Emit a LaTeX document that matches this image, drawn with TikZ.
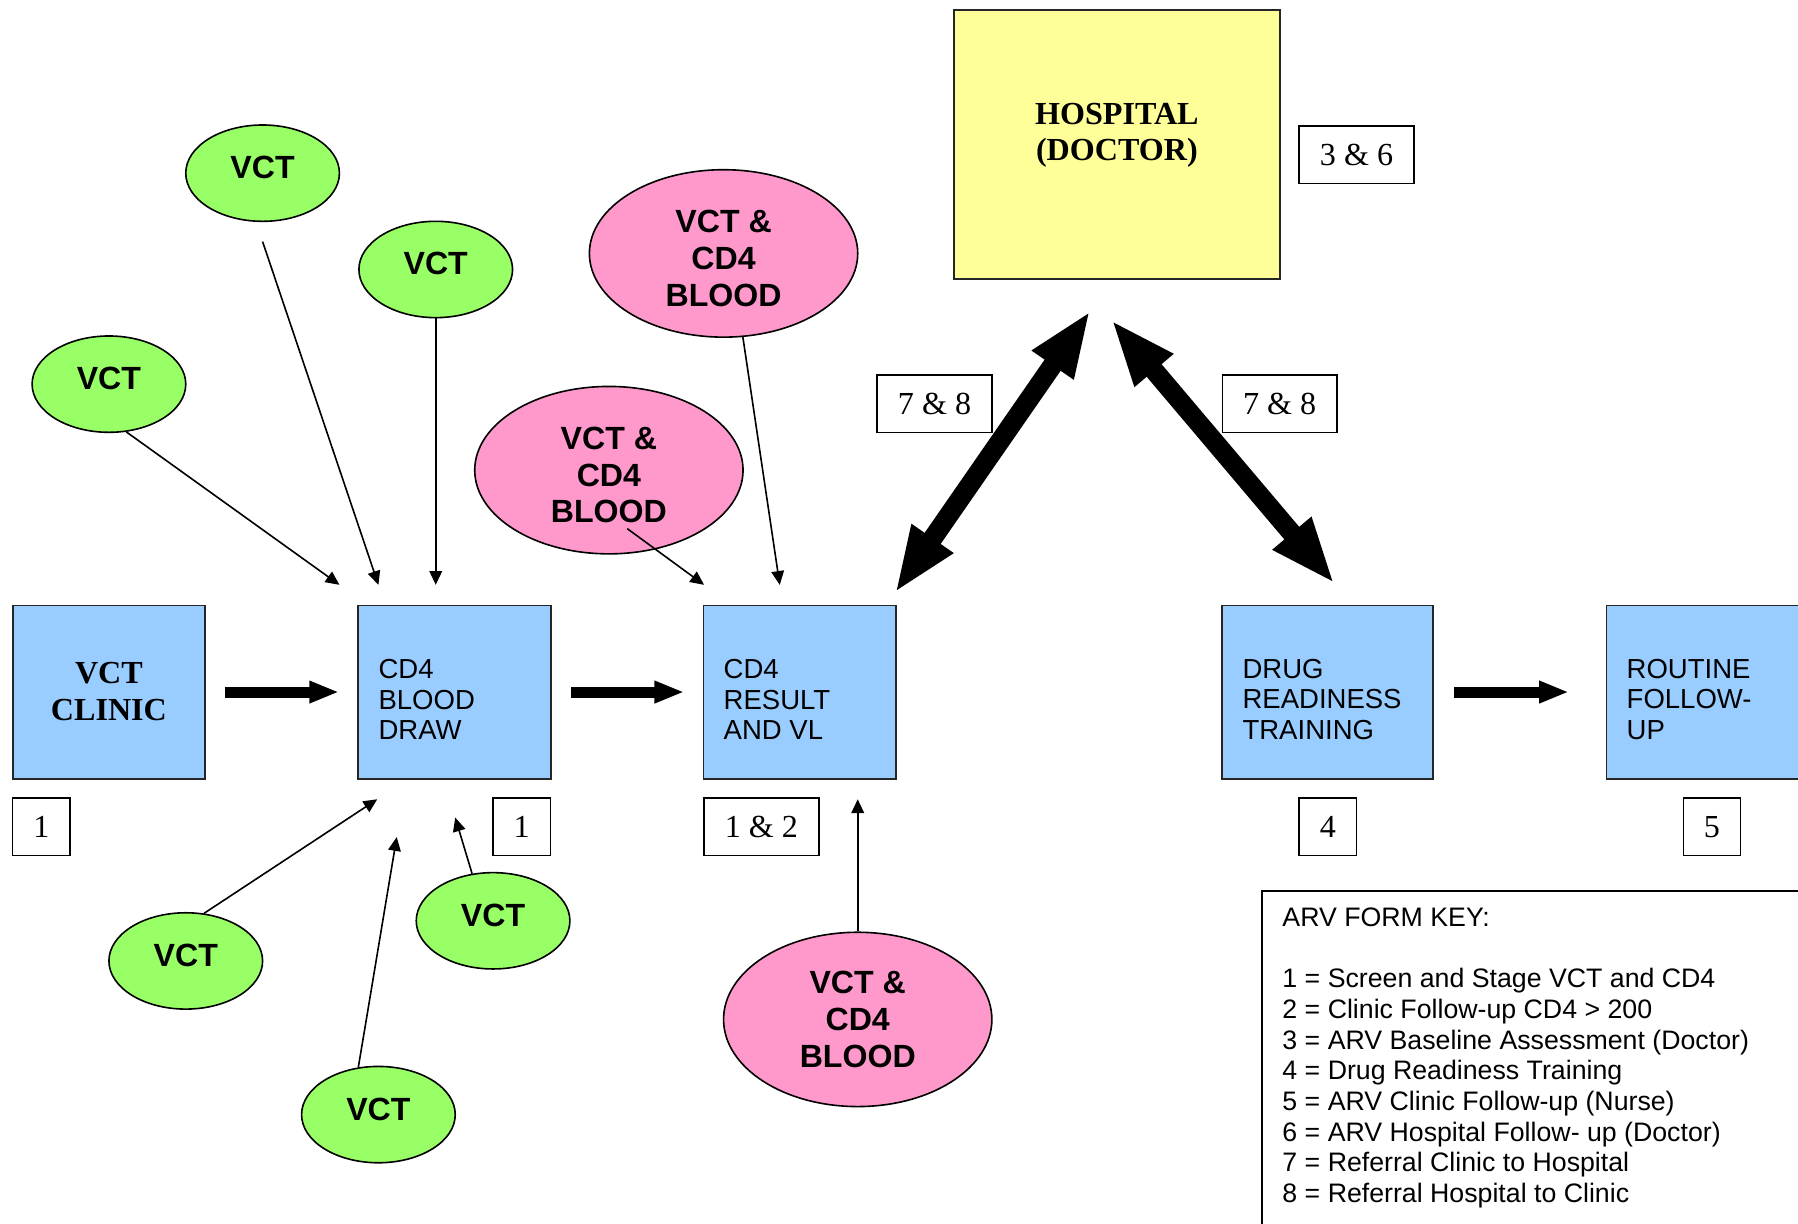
\documentclass[tikz,border=0pt]{standalone}
\usepackage{fontspec}
\setmainfont{Liberation Sans}
\newfontfamily\timesfont{Liberation Serif}
\usetikzlibrary{shapes.geometric,arrows.meta,calc}

\definecolor{stageblue}{HTML}{99CCFF}
\definecolor{hospyellow}{HTML}{FFFF99}
\definecolor{vctgreen}{HTML}{99FF66}
\definecolor{bloodpink}{HTML}{FF99CC}

\newcommand{\toplift}{\rule{0pt}{14pt}}

\begin{document}
\begin{tikzpicture}[x=0.5pt,y=-0.5pt,
  stage/.style={draw=black!85, line width=0.8pt, fill=stageblue,
    minimum width=84pt, minimum height=75.5pt, inner sep=0pt},
  stagetext/.style={anchor=west, align=left, inner sep=0pt,
    font=\fontsize{12}{13.3}\selectfont},
  boldserif/.style={align=center, inner sep=0pt,
    font=\timesfont\bfseries\fontsize{14}{16}\selectfont},
  formno/.style={draw, line width=0.7pt, fill=white, minimum width=25pt,
    minimum height=25pt, inner sep=0pt,
    font=\timesfont\fontsize{14}{16}\selectfont},
  formnowide/.style={formno, minimum width=50pt},
  vct/.style={ellipse, draw, line width=0.7pt, fill=vctgreen,
    minimum width=67pt, minimum height=42pt, inner sep=0pt, text depth=5pt,
    font=\bfseries\fontsize{14}{16}\selectfont},
  blood/.style={ellipse, draw, line width=0.7pt, fill=bloodpink,
    minimum width=117pt, minimum height=73pt, inner sep=0pt, align=center,
    font=\bfseries\fontsize{14}{16}\selectfont},
  feed/.style={line width=0.7pt, -{Triangle[length=6pt,width=5.5pt]}},
  flow/.style={line width=4.8pt, -{Triangle[length=13pt,width=9pt]}},
  referral/.style={line width=8.5pt,
    {Triangle[length=29pt,width=20pt]}-{Triangle[length=29pt,width=20pt]}}
]
\useasboundingbox (0,0) rectangle (1568,1067);
\clip (0,0) rectangle (1568,1067);

% main stages
\node[stage] (clinic) at (95,603.5) {};
\node[boldserif] (clinictxt) at (95,603) {VCT\\CLINIC};
\node[stage] (cd4) at (396.5,603.5) {};
\node[stagetext] (cd4txt) at ([xshift=9pt,yshift=-3.25pt]cd4.west) {CD4\\BLOOD\\DRAW};
\node[stage] (result) at (697.5,603.5) {};
\node[stagetext] (resulttxt) at ([xshift=9pt,yshift=-3.25pt]result.west) {CD4\\RESULT\\AND VL};
\node[stage, minimum width=92pt] (drug) at (1158,603.5) {};
\node[stagetext] (drugtxt) at ([xshift=9pt,yshift=-3.25pt]drug.west) {DRUG\\READINESS\\TRAINING};
\node[stage, minimum width=92pt] (routine) at (1493,603.5) {};
\node[stagetext] (routinetxt) at ([xshift=9pt,yshift=-3.25pt]routine.west) {ROUTINE\\FOLLOW-\\UP};

% hospital
\node[draw=black!85, line width=0.8pt, fill=hospyellow, minimum width=142pt,
  minimum height=117pt, inner sep=0pt] (hosp) at (974,126) {};
\node[boldserif] (hosptxt) at (974,118) {HOSPITAL\\(DOCTOR)};

% form numbers
\node[formno] (f1a) at (36,721) {1};
\node[formno] (f1b) at (455,721) {1};
\node[formnowide] (f12) at (664,721) {1 \& 2};
\node[formno] (f4) at (1158,721) {4};
\node[formno] (f5) at (1493,721) {5};
\node[formnowide] (f36) at (1183,135) {3 \& 6};
\node[formnowide] (f78a) at (815,352) {7 \& 8};
\node[formnowide] (f78b) at (1116,352) {7 \& 8};

% VCT sites
\node[vct] (e1) at (229,151) {VCT};
\node[vct] (e2) at (380,235) {VCT};
\node[vct] (e3) at (95,335) {VCT};
\node[vct] (e4) at (162,838) {VCT};
\node[vct] (e5) at (430,803) {VCT};
\node[vct] (e6) at (330,972) {VCT};

% VCT and CD4 blood sites
\node[blood] (p1) at (631,221) {\toplift VCT \&\\CD4\\BLOOD};
\node[blood] (p2) at (531,410) {\toplift VCT \&\\CD4\\BLOOD};
\node[blood, minimum height=76pt] (p3) at (748,889) {VCT \&\\CD4\\BLOOD};

% arrow ends near the stages
\coordinate (t1) at (330,510);
\coordinate (t2) at (380,510);
\coordinate (t3) at (296,510);
\coordinate (tp2) at (614,510);
\coordinate (tp1) at (680,510);
\coordinate (t4) at (329,697);
\coordinate (t6) at (346,730);
\coordinate (t5) at (397,713);
\coordinate (tp3) at (748,697);
\coordinate (e1tail) at ($(e1.south)+(0,17)$);
\coordinate (p2tail) at ($(p2.center)+(16,51)$);

% feeder arrows
\draw[feed] (e1tail) -- (t1);
\draw[feed] (e2.south) -- (t2);
\draw[feed] (e3.-70) -- (t3);
\draw[feed] (p2tail) -- (tp2);
\draw[feed] (p1.-77) -- (tp1);
\draw[feed] (e4.69) -- (t4);
\draw[feed] (e6.113) -- (t6);
\draw[feed] (e5.114) -- (t5);
\draw[feed] (p3.north) -- (tp3);

% patient flow
\draw[flow, shorten <=8pt, shorten >=8pt] (clinic.east) -- (cd4.west);
\draw[flow, shorten <=8.5pt, shorten >=8pt] (cd4.east) -- (result.west);
\draw[flow, shorten <=8.5pt, shorten >=16pt] (drug.east) -- (routine.west);

% referrals to and from the hospital
\draw[referral] ([xshift=-1pt,yshift=5pt]result.north east) -- ([xshift=-11.5pt,yshift=-13.5pt]hosp.south);
\draw[referral] ([xshift=-2.5pt,yshift=-17.5pt]hosp.south) -- ([xshift=3pt,yshift=9pt]drug.north);

% key
\node[draw, line width=0.8pt, anchor=north west, minimum width=300pt,
  minimum height=200pt, inner sep=0pt] (keybox) at (1100,776) {};
\node[anchor=north west, align=left, inner sep=0pt,
  font=\fontsize{11.65}{13.35}\selectfont] (keytext) at (1118,791.5)
  {ARV FORM KEY:\\[13.35pt]
   1 = Screen and Stage VCT and CD4\\
   2 = Clinic Follow-up CD4 > 200\\
   3 = ARV Baseline Assessment (Doctor)\\
   4 = Drug Readiness Training\\
   5 = ARV Clinic Follow-up (Nurse)\\
   6 = ARV Hospital Follow- up (Doctor)\\
   7 = Referral Clinic to Hospital\\
   8 = Referral Hospital to Clinic};
\end{tikzpicture}
\end{document}
